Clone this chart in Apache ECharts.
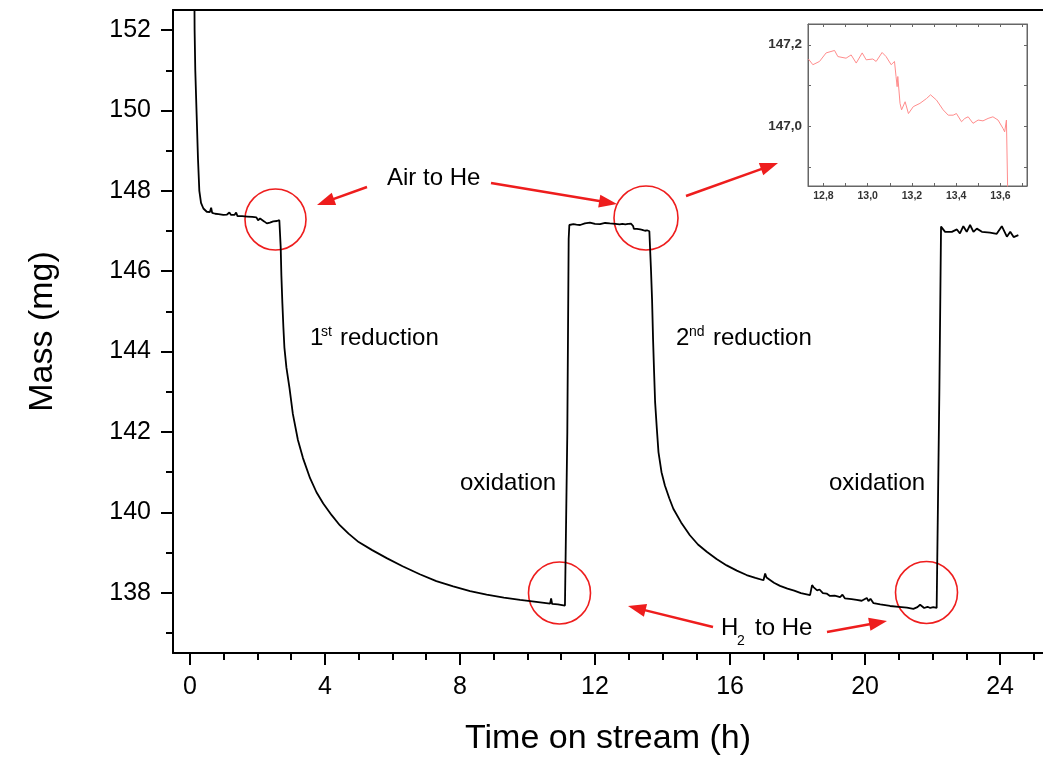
<!DOCTYPE html>
<html>
<head>
<meta charset="utf-8">
<script src="https://cdn.jsdelivr.net/npm/echarts@6/dist/echarts.min.js"></script>
<style>
html,body{margin:0;padding:0;background:#fff;}
#chart{width:1043px;height:761px;}
</style>
</head>
<body>
<div id="chart"></div>
<script>
// ---- main trace: time on stream (h) and mass (mg) ----
const timeH = [
  0.13, 0.14, 0.16, 0.20, 0.24, 0.28, 0.33, 0.40, 0.50, 0.59, 0.63, 0.66, 0.75, 0.85, 0.99,
  1.10, 1.17, 1.22, 1.32, 1.37, 1.41, 1.55, 1.70, 1.85, 1.97, 2.02, 2.08, 2.13, 2.20, 2.28,
  2.37, 2.47, 2.58, 2.65, 2.67, 2.69, 2.71, 2.74, 2.77, 2.80, 2.86, 2.95, 3.05, 3.20, 3.35, 3.56,
  3.75, 3.95, 4.20, 4.44, 4.70, 5.00, 5.40, 5.83, 6.30, 6.81, 7.30, 7.80, 8.30, 8.79, 9.30,
  9.78, 10.20, 10.67, 10.70, 10.73, 10.90, 11.11, 11.15, 11.18, 11.22, 11.24, 11.36, 11.45, 11.56, 11.70,
  11.85, 12.00, 12.15, 12.30, 12.44, 12.60, 12.73, 12.78, 12.81, 12.85, 12.90, 12.95, 12.98, 13.02, 13.07,
  13.11, 13.13, 13.15, 13.18, 13.24, 13.28, 13.34, 13.40, 13.48, 13.54, 13.61, 13.63, 13.66, 13.69, 13.72,
  13.75, 13.78, 13.83, 13.88, 13.97, 14.07, 14.20, 14.32, 14.55, 14.81, 15.05, 15.31, 15.60, 15.90, 16.20,
  16.49, 16.75, 16.99, 17.04, 17.08, 17.12, 17.30, 17.48, 17.70, 17.90, 18.10, 18.37, 18.43, 18.47, 18.52,
  18.58, 18.65, 18.75, 18.86, 18.96, 19.10, 19.26, 19.33, 19.40, 19.60, 19.75, 19.90, 20.05, 20.10, 20.16,
  20.25, 20.45, 20.74, 21.00, 21.24, 21.43, 21.55, 21.63, 21.68, 21.75, 21.85, 21.93, 22.02, 22.12, 22.15,
  22.20, 22.25, 22.37, 22.57, 22.72, 22.81, 22.91, 23.01, 23.11, 23.21, 23.31, 23.46, 23.70, 23.90, 24.05,
  24.20, 24.30, 24.40, 24.54
];
const massMg = [
  153.5, 152.0, 151.0, 149.9, 148.8, 148.0, 147.70, 147.56, 147.48, 147.47, 147.58, 147.45, 147.43, 147.42, 147.40,
  147.41, 147.46, 147.40, 147.40, 147.46, 147.37, 147.37, 147.36, 147.35, 147.34, 147.27, 147.31, 147.33, 147.24, 147.19,
  147.21, 147.24, 147.25, 147.27, 147.25, 146.60, 145.90, 145.20, 144.60, 144.10, 143.60, 143.10, 142.45, 141.80, 141.35, 140.85,
  140.50, 140.22, 139.93, 139.68, 139.47, 139.26, 139.06, 138.86, 138.66, 138.46, 138.29, 138.16, 138.04, 137.95, 137.88,
  137.82, 137.78, 137.73, 137.86, 137.72, 137.71, 137.68, 137.68, 142.00, 146.80, 147.15, 147.17, 147.16, 147.15, 147.19,
  147.21, 147.18, 147.17, 147.20, 147.19, 147.18, 147.165, 147.159, 147.18, 147.186, 147.167, 147.155, 147.18, 147.165, 147.181,
  147.151, 147.122, 147.056, 147.031, 147.056, 147.077, 147.04, 147.03, 147.007, 147.019, 146.994, 147.015, 146.00, 145.30, 144.30,
  143.50, 142.75, 142.10, 141.50, 141.00, 140.67, 140.35, 140.09, 139.75, 139.43, 139.20, 139.02, 138.84, 138.68, 138.55,
  138.44, 138.37, 138.31, 138.48, 138.38, 138.35, 138.25, 138.17, 138.10, 138.05, 137.99, 137.94, 138.19, 138.14, 138.17,
  138.06, 138.08, 137.99, 137.98, 137.92, 137.93, 137.89, 137.95, 137.86, 137.84, 137.82, 137.80, 137.87, 137.79, 137.85,
  137.74, 137.71, 137.67, 137.65, 137.63, 137.60, 137.64, 137.70, 137.74, 137.62, 137.65, 137.62, 137.64, 137.62, 137.63,
  143.00, 147.11, 146.98, 146.98, 147.04, 146.94, 147.12, 146.98, 147.15, 146.98, 147.06, 146.98, 146.96, 146.93, 147.12,
  146.86, 146.98, 146.85, 146.90
];
// ---- inset trace (zoom of the Air -> He switch before the 2nd reduction) ----
const insetTime = [
  12.732, 12.752, 12.782, 12.812, 12.850, 12.865, 12.902, 12.925, 12.948, 12.975, 12.993, 13.023, 13.038, 13.065, 13.083,
  13.106, 13.121, 13.128, 13.133, 13.136, 13.146, 13.153, 13.169, 13.184, 13.206, 13.236, 13.266, 13.284, 13.311, 13.341,
  13.364, 13.386, 13.401, 13.424, 13.439, 13.454, 13.476, 13.499, 13.521, 13.544, 13.566, 13.589, 13.612, 13.619, 13.627,
  13.632, 13.634
];
const insetMass = [
  147.165, 147.151, 147.159, 147.180, 147.186, 147.171, 147.167, 147.175, 147.155, 147.180, 147.163, 147.165, 147.159, 147.181, 147.171,
  147.151, 147.159, 147.122, 147.097, 147.122, 147.056, 147.040, 147.060, 147.031, 147.048, 147.056, 147.068, 147.077, 147.064, 147.040,
  147.027, 147.027, 147.031, 147.011, 147.019, 147.023, 147.007, 147.015, 147.013, 147.019, 147.023, 147.015, 146.994, 146.986, 147.015,
  147.015, 146.800
];
// ---- tick values ----
const xMajor = [0, 4, 8, 12, 16, 20, 24];
const xMinor = [1, 2, 3, 5, 6, 7, 9, 10, 11, 13, 14, 15, 17, 18, 19, 21, 22, 23, 25];
const yMajor = [138, 140, 142, 144, 146, 148, 150, 152];
const yMinor = [137, 139, 141, 143, 145, 147, 149, 151];
const insetXLabels = [12.8, 13.0, 13.2, 13.4, 13.6];
const insetXTicks = [12.8, 12.9, 13.0, 13.1, 13.2, 13.3, 13.4, 13.5, 13.6, 13.7];
const insetYLabels = [147.0, 147.2];
const insetYTicks = [146.9, 147.0, 147.1, 147.2];

const FONT = '"Liberation Sans", Arial, sans-serif';
const RED = '#ee1d1d';

const chart = echarts.init(document.getElementById('chart'));

const mainData = timeH.map((t, i) => [t, massMg[i]]);
const insetData = insetTime.map((t, i) => [t, insetMass[i]]);

function arrow(x1, y1, x2, y2) {
  const dx = x2 - x1, dy = y2 - y1, L = Math.hypot(dx, dy), ux = dx / L, uy = dy / L;
  const hl = 18, hw = 6.5;
  const bx = x2 - ux * hl, by = y2 - uy * hl;
  return [
    {type: 'line', silent: true, shape: {x1: x1, y1: y1, x2: bx + ux * 3, y2: by + uy * 3},
     style: {stroke: RED, lineWidth: 2.5}},
    {type: 'polygon', silent: true,
     shape: {points: [[x2, y2], [bx - uy * hw, by + ux * hw], [bx + uy * hw, by - ux * hw]]},
     style: {fill: RED}}
  ];
}
function circle(cx, cy, r) {
  return {type: 'circle', silent: true, shape: {cx: cx, cy: cy, r: r},
          style: {fill: 'none', stroke: RED, lineWidth: 1.6}};
}
function txt(x, y, s, size) {
  return {type: 'text', silent: true, x: x, y: y,
          style: {text: s, font: size + 'px ' + FONT, fill: '#000',
                  align: 'left', verticalAlign: 'middle', textAlign: 'left', textVerticalAlign: 'middle'}};
}

const fmtComma = v => (Math.round(v * 10) / 10).toFixed(1).replace('.', ',');

const graphics = [].concat(
  [circle(275.5, 219.5, 30.5), circle(646, 218, 32), circle(559.5, 593, 31), circle(926.5, 592.5, 31)],
  arrow(367, 187, 317, 205),
  arrow(491, 183, 617, 204),
  arrow(686, 196, 778, 163),
  arrow(713, 627, 628, 606),
  arrow(827, 632, 887, 621),
  [
    txt(387, 178, 'Air to He', 24),
    txt(310, 338, '1', 24), txt(321, 332, 'st', 14), txt(340, 338, 'reduction', 24),
    txt(676, 338, '2', 24), txt(689, 332, 'nd', 14), txt(713, 338, 'reduction', 24),
    txt(460, 483, 'oxidation', 24),
    txt(829, 483, 'oxidation', 24),
    txt(721, 628, 'H', 24), txt(737, 641, '2', 14), txt(755, 628, 'to He', 24)
  ]
);

const mainLine = {color: '#000', width: 2};
const insetLine = {color: '#666', width: 1};

const option = {
  animation: false,
  backgroundColor: '#fff',
  grid: [
    {left: 173, top: 10, right: 0, bottom: 107, show: false},
    {left: 808, top: 24, width: 219, height: 162, show: true, borderColor: '#666', borderWidth: 1, backgroundColor: '#fff', z: 5}
  ],
  xAxis: [
    {gridIndex: 0, type: 'value', min: -0.5, max: 25.27, position: 'bottom',
     name: 'Time on stream (h)', nameLocation: 'middle', nameGap: 69,
     nameTextStyle: {fontSize: 34, fontFamily: FONT, color: '#000'},
     axisLine: {show: true, onZero: false, lineStyle: mainLine},
     axisTick: {show: true, customValues: xMajor, length: 12, lineStyle: mainLine},
     axisLabel: {show: true, customValues: xMajor, fontSize: 25, fontFamily: FONT, color: '#000', margin: 22},
     splitLine: {show: false}},
    {gridIndex: 0, type: 'value', min: -0.5, max: 25.27, position: 'bottom',
     axisLine: {show: false, onZero: false},
     axisTick: {show: true, customValues: xMinor, length: 7, lineStyle: mainLine},
     axisLabel: {show: false}, splitLine: {show: false}},
    {gridIndex: 0, type: 'value', min: -0.5, max: 25.27, position: 'top',
     axisLine: {show: true, onZero: false, lineStyle: mainLine},
     axisTick: {show: false}, axisLabel: {show: false}, splitLine: {show: false}},
    {gridIndex: 1, type: 'value', min: 12.73, max: 13.72, position: 'bottom',
     axisLine: {show: true, onZero: false, lineStyle: insetLine},
     axisTick: {show: true, inside: true, customValues: insetXTicks, length: 3, lineStyle: insetLine},
     axisLabel: {show: true, customValues: insetXLabels, formatter: fmtComma, fontSize: 10.5, fontWeight: 'bold',
                 fontFamily: FONT, color: '#333', margin: 5},
     splitLine: {show: false}, z: 6},
    {gridIndex: 1, type: 'value', min: 12.73, max: 13.72, position: 'top',
     axisLine: {show: true, onZero: false, lineStyle: insetLine},
     axisTick: {show: true, inside: true, customValues: insetXTicks, length: 3, lineStyle: insetLine},
     axisLabel: {show: false}, splitLine: {show: false}, z: 6}
  ],
  yAxis: [
    {gridIndex: 0, type: 'value', min: 136.5, max: 152.5, position: 'left',
     name: 'Mass (mg)', nameLocation: 'middle', nameGap: 113, nameRotate: 90,
     nameTextStyle: {fontSize: 34, fontFamily: FONT, color: '#000'},
     axisLine: {show: true, onZero: false, lineStyle: mainLine},
     axisTick: {show: true, customValues: yMajor, length: 12, lineStyle: mainLine},
     axisLabel: {show: true, customValues: yMajor, fontSize: 25, fontFamily: FONT, color: '#000', margin: 22},
     splitLine: {show: false}},
    {gridIndex: 0, type: 'value', min: 136.5, max: 152.5, position: 'left',
     axisLine: {show: false, onZero: false},
     axisTick: {show: true, customValues: yMinor, length: 7, lineStyle: mainLine},
     axisLabel: {show: false}, splitLine: {show: false}},
    {gridIndex: 1, type: 'value', min: 146.853, max: 147.251, position: 'left',
     axisLine: {show: true, onZero: false, lineStyle: insetLine},
     axisTick: {show: true, inside: true, customValues: insetYTicks, length: 3, lineStyle: insetLine},
     axisLabel: {show: true, customValues: insetYLabels, formatter: fmtComma, fontSize: 13.5, fontWeight: 'bold',
                 fontFamily: FONT, color: '#333', margin: 6},
     splitLine: {show: false}, z: 6},
    {gridIndex: 1, type: 'value', min: 146.853, max: 147.251, position: 'right',
     axisLine: {show: true, onZero: false, lineStyle: insetLine},
     axisTick: {show: true, inside: true, customValues: insetYTicks, length: 3, lineStyle: insetLine},
     axisLabel: {show: false}, splitLine: {show: false}, z: 6}
  ],
  series: [
    {type: 'line', xAxisIndex: 0, yAxisIndex: 0, data: mainData, showSymbol: false, clip: true,
     lineStyle: {color: '#000', width: 1.8}, z: 3},
    {type: 'line', xAxisIndex: 3, yAxisIndex: 2, data: insetData, showSymbol: false, clip: true,
     lineStyle: {color: '#ff8c8c', width: 1}, z: 7}
  ],
  graphic: graphics
};
chart.setOption(option);
</script>
</body>
</html>
